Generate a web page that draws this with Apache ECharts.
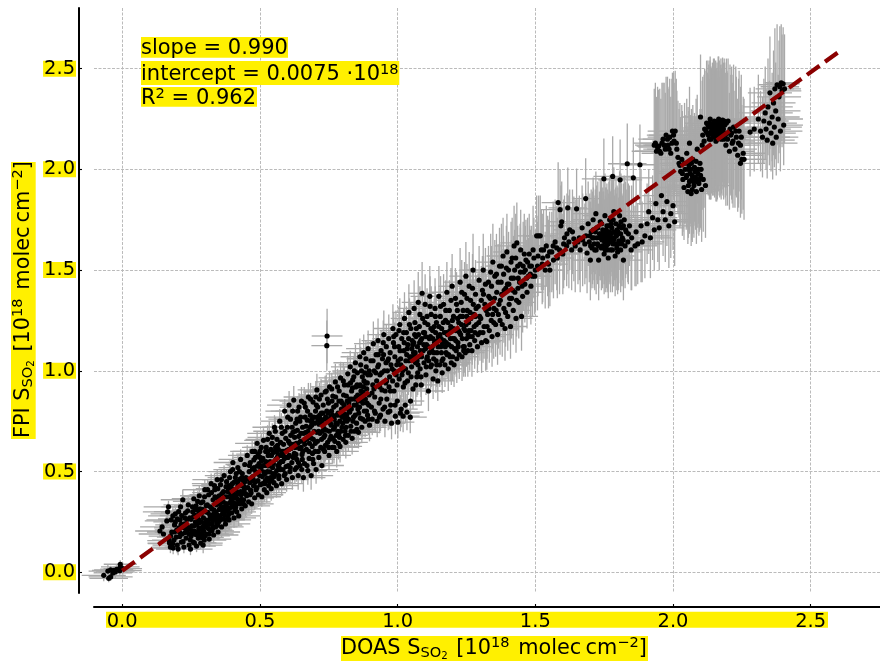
<!DOCTYPE html>
<html><head><meta charset="utf-8">
<style>html,body{margin:0;padding:0;background:#fff}#c{width:880px;height:665px}</style>
<script src="https://cdn.jsdelivr.net/npm/echarts@6/dist/echarts.min.js"></script>
</head><body><div id="c"></div>
<script>
// rows: DOAS S, FPI S, DOAS error, FPI error (10^18 molec cm-2)
const nearZero=[[-.067,-.015,.08,.03],[-.049,-.03,.07,.02],[-.042,-.023,.08,.02],[-.052,.006,.07,.03],[-.034,-.003,.07,.03],[-.03,.01,.08,.02],[-.02,.015,.06,.02],[-.007,.04,.06,.02],[-.007,.027,.07,.02],[-.009,.008,.08,.02],[-.025,.002,.07,.03],[-.042,.012,.06,.02],[.002,.018,.07,.03]];
const rangeA=[[.137,.205,.09,.03],[.145,.225,.08,.03],[.15,.19,.09,.04],[.162,.255,.08,.03],[.165,.3,.09,.04],[.168,.325,.09,.03],[.172,.145,.08,.03],[.175,.125,.07,.03],[.178,.26,.09,.04],[.18,.2,.09,.03],[.185,.12,.08,.03],[.188,.16,.08,.04],[.19,.235,.07,.04],[.193,.29,.09,.03],[.196,.175,.07,.03],[.2,.135,.09,.04],[.203,.115,.08,.03],[.206,.22,.09,.04],[.21,.26,.08,.05],[.212,.325,.07,.04],[.215,.15,.08,.03],[.218,.19,.09,.03],[.22,.36,.08,.05],[.224,.125,.07,.03],[.226,.24,.08,.04],[.23,.295,.09,.04],[.232,.17,.08,.03],[.236,.21,.07,.05],[.24,.335,.09,.05],[.243,.135,.08,.03],[.245,.27,.07,.04],[.248,.115,.08,.03],[.25,.18,.09,.04],[.253,.23,.07,.05],[.256,.3,.08,.04],[.258,.15,.07,.03],[.26,.365,.08,.05],[.263,.205,.09,.04],[.266,.25,.07,.05],[.268,.33,.08,.05],[.27,.13,.07,.03],[.273,.28,.09,.05],[.276,.17,.08,.04],[.278,.22,.08,.04],[.28,.38,.07,.05],[.283,.315,.08,.05],[.285,.145,.08,.03],[.288,.25,.09,.05],[.29,.195,.07,.04],[.293,.35,.08,.05],[.295,.27,.07,.04],[.298,.16,.08,.04],[.3,.41,.08,.05],[.302,.3,.07,.05],[.304,.225,.09,.05],[.307,.19,.08,.04],[.309,.335,.07,.05],[.312,.255,.08,.05],[.314,.385,.07,.06],[.316,.165,.08,.04],[.318,.285,.09,.05],[.32,.21,.08,.05],[.323,.44,.07,.05],[.325,.315,.08,.06],[.327,.24,.07,.05],[.33,.36,.08,.05],[.332,.185,.09,.04],[.334,.27,.07,.05],[.336,.41,.08,.06],[.339,.225,.08,.05],[.341,.3,.07,.05],[.343,.335,.08,.06],[.345,.46,.09,.05],[.348,.2,.08,.04],[.35,.25,.07,.05],[.352,.38,.08,.06],[.354,.28,.08,.05],[.357,.435,.07,.06],[.359,.32,.09,.06],[.361,.225,.08,.05],[.363,.355,.07,.05],[.366,.265,.08,.05],[.368,.4,.08,.06],[.37,.48,.07,.05],[.372,.3,.08,.06],[.375,.24,.09,.05],[.377,.34,.08,.05],[.379,.45,.07,.06],[.381,.375,.08,.06],[.384,.275,.07,.05],[.386,.415,.09,.06],[.388,.26,.08,.05],[.391,.32,.07,.06],[.393,.5,.08,.05],[.395,.355,.08,.06],[.398,.295,.07,.05],[.4,.44,.08,.06],[.402,.545,.07,.05],[.404,.39,.09,.06],[.406,.27,.08,.05],[.409,.335,.07,.06],[.411,.47,.08,.06],[.413,.41,.08,.05],[.416,.3,.07,.05],[.418,.365,.09,.06],[.42,.52,.07,.06],[.423,.28,.08,.05],[.425,.43,.08,.06],[.427,.34,.07,.06],[.43,.56,.08,.05],[.432,.385,.09,.06],[.434,.315,.07,.05],[.436,.49,.08,.07],[.439,.45,.07,.06],[.441,.36,.08,.05],[.443,.41,.08,.06],[.445,.535,.07,.06],[.447,.33,.09,.05],[.449,.47,.08,.06]];
const coreA=[[.171,.157,.08,.04],[.183,.142,.09,.03],[.198,.21,.08,.04],[.209,.178,.07,.04],[.221,.152,.09,.03],[.214,.238,.08,.05],[.235,.262,.07,.05],[.229,.198,.09,.04],[.247,.161,.08,.04],[.241,.222,.07,.05],[.259,.277,.08,.05],[.252,.207,.09,.04],[.268,.188,.07,.04],[.262,.146,.08,.03],[.277,.263,.09,.05],[.271,.238,.07,.05],[.289,.173,.08,.04],[.284,.215,.09,.05],[.297,.231,.07,.05],[.291,.312,.08,.05],[.306,.259,.07,.05],[.301,.181,.09,.04],[.317,.238,.08,.05],[.311,.297,.07,.05],[.326,.206,.08,.05],[.322,.269,.09,.05],[.338,.342,.07,.06],[.331,.288,.08,.05],[.346,.234,.09,.05],[.342,.371,.07,.06],[.353,.312,.08,.06],[.349,.268,.07,.05],[.364,.29,.09,.06],[.358,.348,.08,.06],[.374,.262,.07,.05],[.369,.325,.08,.06],[.383,.401,.09,.06],[.378,.305,.07,.06],[.392,.345,.08,.06],[.387,.289,.08,.05],[.403,.367,.07,.06],[.397,.418,.09,.06],[.412,.323,.08,.06],[.407,.448,.07,.06],[.421,.396,.08,.06],[.417,.341,.09,.06],[.433,.362,.07,.06],[.428,.462,.08,.06],[.442,.426,.08,.06],[.438,.393,.07,.06],[.255,.325,.09,.05],[.238,.305,.08,.05],[.227,.27,.07,.05],[.216,.282,.08,.04],[.205,.301,.09,.04],[.286,.345,.07,.05],[.279,.295,.08,.05],[.274,.352,.09,.05],[.265,.31,.07,.05],[.299,.375,.08,.05],[.31,.41,.09,.05],[.324,.395,.07,.06],[.335,.43,.08,.06],[.347,.415,.08,.06],[.36,.46,.07,.05],[.377,.425,.09,.06],[.39,.47,.08,.06],[.401,.51,.07,.06],[.414,.49,.08,.06],[.426,.5,.09,.06],[.294,.135,.07,.04],[.282,.19,.08,.04],[.315,.19,.09,.04],[.329,.22,.07,.05],[.343,.25,.08,.05],[.356,.26,.09,.05],[.371,.285,.07,.05],[.385,.31,.08,.05],[.399,.325,.08,.06],[.41,.31,.07,.05],[.424,.35,.09,.06],[.44,.34,.08,.05],[.19,.2,.07,.04],[.176,.18,.08,.04],[.184,.28,.09,.04],[.2,.265,.07,.05],[.243,.19,.08,.04],[.26,.23,.09,.05],[.275,.2,.07,.04],[.292,.225,.08,.05],[.303,.245,.08,.05],[.319,.265,.07,.05],[.333,.31,.09,.06],[.344,.285,.08,.05],[.355,.34,.07,.06],[.367,.35,.08,.06],[.38,.34,.09,.06],[.394,.39,.07,.06],[.408,.38,.08,.06],[.42,.43,.08,.06],[.431,.43,.07,.06],[.445,.45,.09,.06]];
const fillA=[[.193,.25,.08,.04],[.208,.2,.09,.04],[.223,.222,.07,.04],[.234,.233,.08,.05],[.25,.263,.09,.05],[.258,.19,.07,.04],[.264,.283,.08,.05],[.272,.31,.09,.05],[.281,.247,.07,.05],[.287,.29,.08,.05],[.296,.205,.09,.05],[.305,.33,.07,.05],[.313,.217,.08,.05],[.32,.325,.09,.06],[.328,.258,.07,.05],[.337,.375,.08,.06],[.34,.264,.09,.05],[.351,.36,.07,.06],[.362,.39,.08,.06],[.365,.31,.09,.06],[.373,.375,.07,.06],[.382,.32,.08,.06],[.389,.43,.09,.06],[.396,.37,.07,.06],[.405,.345,.08,.06],[.415,.385,.09,.06],[.419,.45,.07,.06],[.43,.4,.08,.06],[.435,.47,.09,.06],[.448,.39,.07,.06]];
const rangeB=[[.452,.38,.08,.06],[.454,.58,.07,.05],[.456,.42,.08,.07],[.459,.35,.08,.05],[.461,.5,.07,.06],[.463,.445,.09,.06],[.465,.545,.08,.07],[.468,.395,.07,.06],[.47,.34,.08,.05],[.472,.6,.08,.06],[.474,.475,.07,.07],[.477,.43,.09,.06],[.479,.52,.08,.06],[.481,.37,.07,.06],[.484,.57,.08,.07],[.486,.41,.07,.06],[.488,.49,.08,.07],[.49,.64,.08,.06],[.493,.455,.07,.06],[.495,.385,.09,.06],[.497,.54,.08,.07],[.5,.6,.07,.06],[.502,.435,.08,.06],[.504,.51,.08,.07],[.507,.375,.07,.05],[.509,.475,.08,.07],[.511,.565,.09,.07],[.513,.655,.07,.06],[.516,.41,.08,.06],[.518,.53,.07,.07],[.52,.455,.08,.06],[.523,.62,.08,.07],[.525,.395,.07,.05],[.527,.5,.09,.07],[.53,.58,.08,.07],[.532,.43,.07,.06],[.534,.69,.08,.06],[.537,.55,.08,.07],[.539,.47,.07,.07],[.541,.415,.08,.06],[.544,.64,.07,.07],[.546,.52,.09,.07],[.548,.595,.08,.07],[.551,.445,.07,.06],[.553,.72,.08,.06],[.555,.49,.08,.07],[.558,.56,.07,.07],[.56,.43,.08,.06],[.562,.66,.08,.07],[.565,.53,.07,.07],[.567,.61,.09,.07],[.569,.465,.08,.07],[.572,.75,.07,.06],[.574,.51,.08,.07],[.576,.58,.07,.07],[.579,.44,.08,.06],[.581,.69,.08,.07],[.583,.55,.07,.08],[.586,.635,.09,.07],[.588,.48,.08,.07],[.59,.8,.07,.06],[.593,.6,.08,.07],[.595,.525,.07,.07],[.597,.46,.08,.06],[.6,.72,.08,.08],[.602,.57,.07,.07],[.604,.65,.09,.07],[.606,.83,.08,.07],[.609,.5,.07,.07],[.611,.76,.08,.07],[.613,.615,.07,.08],[.616,.545,.08,.07],[.618,.47,.08,.06],[.62,.695,.07,.08],[.623,.855,.08,.07],[.625,.59,.09,.07],[.627,.51,.08,.07],[.63,.74,.07,.08],[.632,.64,.08,.08],[.634,.56,.07,.07],[.637,.8,.08,.07],[.639,.48,.08,.07],[.641,.675,.07,.08],[.644,.615,.09,.08],[.646,.53,.08,.07],[.648,.77,.07,.08],[.651,.85,.08,.07],[.653,.585,.08,.08],[.655,.72,.07,.08],[.658,.47,.08,.07],[.66,.65,.09,.08],[.662,.54,.07,.07],[.665,.82,.08,.08],[.667,.695,.08,.08],[.669,.61,.07,.08],[.672,.755,.08,.08],[.674,.505,.07,.07],[.676,.87,.09,.07],[.679,.565,.08,.08],[.681,.67,.07,.08],[.683,.78,.08,.08],[.686,.48,.08,.07],[.688,.73,.07,.09],[.69,.625,.08,.08],[.693,.845,.09,.08],[.695,.54,.07,.07],[.697,.7,.08,.08],[.7,.6,.08,.08],[.702,.8,.07,.09],[.704,.51,.08,.07],[.707,.905,.07,.08],[.709,.65,.08,.09],[.711,.755,.09,.09],[.714,.57,.08,.08],[.716,.86,.07,.08],[.718,.69,.08,.09],[.721,.62,.07,.08],[.723,.79,.08,.08],[.725,.53,.08,.07],[.728,.735,.07,.09],[.73,.83,.09,.08],[.732,.67,.08,.09],[.735,.6,.07,.08],[.737,.895,.08,.08],[.739,.77,.08,.09],[.742,.705,.07,.09],[.744,1.173,.056,.135],[.743,1.125,.056,.125],[.746,.645,.08,.08],[.749,.84,.09,.09],[.751,.58,.08,.07],[.753,.92,.07,.08],[.756,.74,.08,.09],[.758,.675,.07,.09],[.76,.8,.08,.09],[.763,.62,.08,.08],[.765,.875,.09,.09],[.767,.71,.07,.09],[.77,.76,.08,.09],[.772,.65,.08,.08],[.774,.945,.07,.09],[.777,.83,.08,.09],[.779,.6,.08,.08],[.781,.735,.07,.09],[.784,.79,.09,.09],[.786,.685,.08,.09],[.788,.9,.07,.09],[.791,.625,.08,.08],[.793,.965,.08,.08],[.795,.85,.07,.09],[.798,.72,.08,.09],[.8,.77,.09,.09],[.802,.66,.07,.08],[.805,.815,.08,.09],[.807,.93,.08,.09],[.809,.7,.07,.09],[.812,.645,.08,.08],[.814,.875,.07,.09],[.816,.75,.09,.09],[.819,.985,.08,.09],[.821,.68,.07,.08],[.823,.84,.08,.09],[.826,.795,.08,.09],[.828,1.02,.07,.08],[.83,.725,.08,.09],[.833,.9,.08,.1],[.835,.665,.07,.08],[.837,.955,.09,.09],[.84,.77,.08,.09],[.842,.83,.07,.09],[.844,.7,.08,.08],[.847,1.04,.08,.09],[.849,.87,.07,.1],[.851,.74,.08,.09],[.854,.99,.09,.1],[.856,.81,.07,.09],[.858,.695,.08,.08],[.861,.925,.08,.1],[.863,1.07,.07,.09],[.865,.765,.08,.09],[.868,.85,.07,.09],[.87,.72,.09,.08],[.872,.97,.08,.1],[.875,.895,.07,.1],[.877,1.09,.08,.09],[.879,.8,.08,.09],[.882,.75,.07,.08],[.884,.94,.08,.1],[.886,1.02,.09,.1],[.889,.84,.07,.09],[.891,.78,.08,.09],[.893,1.11,.08,.09],[.896,.88,.07,.1],[.898,.73,.08,.08]];
const coreB=[[.458,.463,.08,.07],[.473,.512,.07,.06],[.466,.408,.08,.06],[.483,.447,.08,.07],[.491,.527,.07,.07],[.478,.558,.09,.06],[.499,.48,.08,.07],[.506,.553,.07,.07],[.494,.587,.08,.07],[.515,.497,.08,.07],[.521,.6,.07,.07],[.51,.44,.09,.06],[.531,.528,.08,.07],[.526,.468,.07,.07],[.54,.61,.08,.07],[.536,.498,.08,.07],[.549,.54,.07,.07],[.545,.67,.09,.07],[.557,.62,.08,.07],[.552,.475,.07,.07],[.566,.585,.08,.07],[.561,.505,.08,.07],[.575,.645,.07,.07],[.571,.54,.09,.07],[.584,.51,.08,.07],[.58,.6,.07,.07],[.594,.665,.08,.08],[.589,.565,.08,.07],[.603,.53,.07,.07],[.598,.605,.09,.07],[.612,.68,.08,.08],[.607,.58,.07,.07],[.622,.635,.08,.08],[.617,.72,.08,.08],[.631,.585,.07,.08],[.626,.67,.09,.08],[.64,.545,.08,.07],[.636,.705,.07,.08],[.65,.62,.08,.08],[.645,.75,.08,.08],[.659,.69,.07,.08],[.654,.56,.09,.07],[.668,.725,.08,.08],[.663,.635,.07,.08],[.678,.6,.08,.08],[.673,.8,.08,.08],[.687,.665,.07,.08],[.682,.72,.09,.08],[.696,.77,.08,.08],[.691,.59,.07,.08],[.706,.695,.08,.09],[.701,.64,.08,.08],[.715,.735,.07,.09],[.71,.82,.09,.08],[.724,.66,.08,.09],[.719,.76,.07,.09],[.733,.715,.08,.09],[.729,.79,.08,.09],[.743,.8,.07,.09],[.738,.63,.09,.08],[.752,.7,.08,.09],[.747,.755,.07,.09],[.762,.85,.08,.09],[.757,.77,.08,.09],[.771,.72,.07,.09],[.766,.665,.09,.08],[.78,.78,.08,.09],[.775,.87,.07,.09],[.79,.75,.08,.09],[.785,.64,.08,.08],[.799,.84,.07,.09],[.794,.7,.09,.09],[.808,.785,.08,.09],[.804,.88,.07,.09],[.818,.815,.08,.09],[.813,.72,.08,.09],[.827,.86,.07,.1],[.822,.76,.09,.09],[.836,.915,.08,.1],[.832,.81,.07,.09],[.846,.78,.08,.09],[.841,.97,.08,.1],[.855,.88,.07,.1],[.85,.83,.09,.09],[.864,.93,.08,.1],[.859,.79,.07,.09],[.874,.84,.08,.09],[.869,1.0,.08,.1],[.883,.86,.07,.1],[.878,.95,.09,.1],[.892,.98,.08,.1],[.887,.8,.07,.09],[.481,.6,.08,.06],[.464,.385,.08,.06],[.505,.62,.07,.07],[.517,.44,.09,.06],[.528,.66,.08,.07],[.543,.46,.07,.06],[.556,.7,.08,.07],[.568,.48,.08,.06],[.578,.72,.07,.07],[.592,.49,.09,.06],[.601,.77,.08,.07],[.61,.52,.07,.07],[.619,.8,.08,.07],[.633,.52,.08,.07],[.642,.82,.07,.07],[.652,.51,.09,.07],[.661,.84,.08,.08],[.671,.53,.07,.07],[.684,.86,.08,.08],[.692,.56,.08,.07],[.703,.87,.07,.08],[.712,.6,.09,.08],[.722,.88,.08,.08],[.731,.61,.07,.08],[.741,.9,.08,.08],[.75,.62,.08,.08],[.761,.91,.07,.08],[.769,.62,.09,.08],[.782,.92,.08,.09],[.789,.67,.07,.08],[.803,.95,.08,.09],[.811,.68,.08,.08],[.82,.93,.07,.09],[.831,.7,.09,.08],[.843,1.0,.08,.09],[.852,.71,.07,.08],[.866,1.03,.08,.09],[.873,.76,.08,.09],[.885,1.06,.07,.09],[.894,.76,.09,.08],[.888,.91,.08,.1],[.897,1.0,.07,.1],[.867,.9,.08,.1],[.848,.92,.08,.1],[.829,.94,.07,.09],[.815,.78,.09,.09],[.796,.81,.08,.09],[.778,.68,.07,.09],[.759,.73,.08,.09],[.745,.86,.08,.09],[.727,.7,.07,.09],[.708,.77,.09,.09],[.689,.76,.08,.08],[.67,.66,.07,.08],[.649,.69,.08,.08],[.628,.7,.08,.08],[.608,.64,.07,.07],[.585,.58,.09,.07],[.563,.57,.08,.07],[.542,.58,.07,.07],[.522,.55,.08,.07],[.503,.52,.08,.07],[.485,.5,.07,.07],[.469,.455,.09,.06]];
const fillB=[[.462,.53,.08,.07],[.476,.46,.07,.06],[.489,.42,.08,.06],[.501,.57,.08,.07],[.512,.53,.07,.07],[.519,.49,.09,.07],[.529,.6,.08,.07],[.535,.45,.07,.06],[.547,.49,.08,.07],[.554,.6,.08,.07],[.564,.63,.07,.07],[.57,.52,.09,.07],[.577,.55,.08,.07],[.587,.6,.07,.07],[.591,.7,.08,.07],[.596,.57,.08,.07],[.605,.61,.07,.07],[.615,.63,.09,.08],[.621,.57,.08,.07],[.629,.62,.07,.08],[.635,.76,.08,.08],[.638,.64,.08,.08],[.647,.65,.07,.08],[.656,.6,.09,.08],[.664,.77,.08,.08],[.675,.7,.07,.08],[.68,.64,.08,.08],[.685,.75,.08,.08],[.694,.66,.07,.08],[.699,.74,.09,.08],[.705,.83,.08,.08],[.713,.7,.07,.09],[.717,.78,.08,.09],[.726,.74,.08,.09],[.734,.76,.07,.09],[.736,.68,.09,.09],[.748,.79,.08,.09],[.754,.66,.07,.09],[.764,.78,.08,.09],[.768,.82,.08,.09],[.776,.74,.07,.09],[.783,.7,.09,.09],[.787,.85,.08,.09],[.792,.78,.07,.09],[.801,.74,.08,.09],[.806,.83,.08,.09],[.81,.76,.07,.09],[.817,.85,.09,.09],[.824,.8,.08,.09],[.834,.86,.07,.09],[.838,.75,.08,.09],[.845,.86,.08,.09],[.853,.93,.07,.1],[.857,.85,.09,.09],[.862,.82,.08,.09],[.871,.88,.07,.1],[.876,.92,.08,.1],[.881,.99,.08,.1],[.89,.94,.07,.1],[.895,.83,.09,.09]];
const rangeC=[[.901,.98,.06,.1],[.903,1.05,.05,.1],[.905,.82,.06,.09],[.908,.76,.06,.08],[.91,.93,.05,.1],[.912,1.135,.07,.11],[.915,1.0,.06,.1],[.917,.87,.05,.09],[.919,.79,.06,.09],[.922,1.08,.06,.1],[.924,.95,.05,.1],[.926,.75,.06,.08],[.929,1.15,.06,.11],[.931,1.03,.07,.11],[.933,.84,.05,.09],[.936,.98,.06,.11],[.938,.78,.06,.08],[.94,1.1,.05,.1],[.943,.905,.06,.1],[.945,1.06,.05,.11],[.947,.81,.07,.09],[.95,1.18,.06,.12],[.952,1.0,.05,.11],[.954,.75,.06,.08],[.957,.94,.06,.1],[.959,1.12,.05,.11],[.961,.86,.06,.09],[.964,1.05,.05,.11],[.966,.795,.07,.09],[.968,1.16,.06,.12],[.971,.97,.05,.11],[.973,1.09,.06,.11],[.975,.83,.06,.09],[.978,.74,.05,.08],[.98,1.01,.06,.11],[.983,1.21,.07,.12],[.985,1.14,.05,.12],[.987,.9,.06,.1],[.99,1.07,.06,.11],[.992,.775,.05,.09],[.994,1.18,.06,.12],[.997,1.03,.05,.11],[.999,.85,.07,.09],[1.001,.745,.06,.08],[1.004,1.12,.05,.12],[1.006,.96,.06,.11],[1.008,1.23,.06,.13],[1.011,1.06,.05,.12],[1.013,.81,.06,.09],[1.015,1.16,.07,.12],[1.018,1.0,.05,.11],[1.02,.775,.06,.08],[1.023,1.1,.06,.12],[1.025,1.26,.05,.13],[1.027,.94,.06,.1],[1.03,1.05,.05,.11],[1.032,1.19,.07,.13],[1.034,.795,.06,.09],[1.037,1.13,.05,.12],[1.039,.99,.06,.11],[1.041,1.29,.06,.14],[1.044,1.07,.05,.12],[1.046,.77,.06,.08],[1.048,1.21,.07,.13],[1.051,1.02,.05,.11],[1.053,1.15,.06,.12],[1.056,.91,.06,.1],[1.058,1.09,.05,.12],[1.06,1.31,.06,.14],[1.063,1.24,.05,.13],[1.065,1.04,.07,.11],[1.067,1.17,.06,.12],[1.07,.97,.05,.1],[1.072,1.12,.06,.12],[1.075,1.34,.06,.15],[1.077,1.07,.05,.12],[1.079,1.22,.06,.13],[1.082,1.01,.07,.11],[1.084,1.15,.05,.12],[1.086,.93,.06,.1],[1.089,1.385,.05,.155],[1.091,1.26,.06,.14],[1.093,1.1,.06,.12],[1.096,1.04,.05,.11],[1.098,1.19,.07,.13],[1.1,1.33,.06,.15],[1.103,.98,.05,.1],[1.105,1.13,.06,.12],[1.108,1.07,.06,.12],[1.11,1.23,.05,.13],[1.112,.9,.06,.1],[1.115,1.16,.05,.12],[1.117,1.37,.07,.15],[1.12,1.02,.06,.11],[1.122,1.28,.05,.14],[1.124,1.1,.06,.12],[1.127,1.2,.06,.13],[1.129,.96,.05,.1],[1.131,1.06,.06,.12],[1.134,1.14,.07,.12],[1.136,1.31,.05,.15],[1.139,1.0,.06,.11],[1.141,1.24,.06,.14],[1.143,1.09,.05,.12],[1.146,.95,.06,.1],[1.148,1.17,.05,.13],[1.15,1.37,.07,.15],[1.153,1.03,.06,.11],[1.155,1.27,.05,.14],[1.157,1.12,.06,.12],[1.16,1.21,.06,.14],[1.162,.99,.05,.1],[1.165,1.06,.06,.11],[1.167,1.33,.07,.15],[1.169,1.15,.05,.13],[1.172,1.03,.06,.11],[1.174,1.25,.05,.14],[1.176,1.09,.06,.12],[1.179,1.39,.06,.15],[1.181,1.18,.07,.13],[1.184,1.01,.05,.11],[1.186,1.13,.06,.13],[1.188,1.3,.06,.15],[1.191,1.07,.05,.12],[1.193,1.22,.06,.14],[1.195,1.04,.07,.11],[1.198,1.42,.05,.16],[1.2,1.16,.06,.13],[1.203,1.27,.06,.15],[1.205,1.03,.05,.11],[1.207,1.11,.06,.13],[1.21,1.36,.05,.15],[1.212,1.2,.07,.14],[1.215,1.06,.06,.12],[1.217,1.3,.05,.15],[1.219,1.14,.06,.13],[1.222,1.24,.06,.15],[1.224,1.08,.05,.12],[1.227,1.44,.06,.17],[1.229,1.18,.07,.14],[1.231,1.34,.05,.16],[1.234,1.07,.06,.12],[1.236,1.27,.06,.15],[1.239,1.12,.05,.13],[1.241,1.21,.06,.14],[1.243,1.38,.05,.16],[1.246,1.09,.07,.12],[1.248,1.47,.06,.17],[1.25,1.16,.05,.14],[1.253,1.3,.06,.16],[1.255,1.1,.06,.13],[1.258,1.24,.05,.15],[1.26,1.42,.06,.17],[1.262,1.13,.07,.13],[1.265,1.35,.05,.16],[1.267,1.2,.06,.15],[1.27,1.1,.06,.13],[1.274,1.5,.05,.18],[1.277,1.28,.06,.16],[1.28,1.15,.05,.14],[1.283,1.38,.07,.17],[1.286,1.23,.06,.15],[1.29,1.12,.05,.13],[1.293,1.32,.06,.16],[1.296,1.45,.06,.17],[1.299,1.19,.05,.14]];
const coreC=[[.907,.89,.06,.1],[.921,.99,.05,.1],[.914,.91,.06,.1],[.928,1.02,.06,.11],[.935,.92,.05,.1],[.942,.99,.07,.1],[.949,1.08,.06,.11],[.955,.9,.05,.1],[.963,1.0,.06,.11],[.958,1.04,.06,.11],[.969,.92,.05,.1],[.976,1.03,.07,.11],[.982,.95,.06,.1],[.989,1.12,.05,.12],[.995,.98,.06,.11],[1.002,1.05,.06,.11],[1.009,1.1,.05,.12],[1.016,.98,.07,.11],[1.022,1.19,.06,.12],[1.029,1.01,.05,.11],[1.035,1.11,.06,.12],[1.042,1.05,.06,.12],[1.049,.97,.05,.1],[1.055,1.13,.07,.12],[1.061,1.07,.06,.12],[1.068,1.21,.05,.13],[1.074,1.03,.06,.11],[1.08,1.14,.06,.13],[1.087,1.07,.05,.12],[1.094,1.19,.07,.13],[1.101,1.11,.06,.13],[1.107,1.27,.05,.14],[1.113,1.05,.06,.12],[1.119,1.17,.06,.13],[1.126,1.12,.05,.13],[1.133,1.22,.07,.14],[1.14,1.05,.06,.12],[1.147,1.12,.05,.13],[1.154,1.18,.06,.14],[1.159,1.09,.06,.13],[1.166,1.24,.05,.15],[1.173,1.12,.07,.13],[1.178,1.19,.06,.14],[1.185,1.08,.05,.13],[1.192,1.16,.06,.14],[1.199,1.25,.06,.15],[1.206,1.16,.05,.14],[1.213,1.1,.07,.13],[1.221,1.2,.06,.15],[1.228,1.27,.05,.16],[1.235,1.16,.06,.14],[1.242,1.12,.06,.13],[1.249,1.23,.05,.15],[1.256,1.18,.07,.15],[1.263,1.29,.06,.16],[1.271,1.17,.05,.14],[1.278,1.22,.06,.15],[1.285,1.31,.06,.16],[1.292,1.18,.05,.15],[1.298,1.27,.07,.16],[.911,1.05,.06,.1],[.93,1.08,.05,.11],[.948,1.14,.06,.11],[.967,1.06,.06,.11],[.986,1.17,.05,.12],[1.005,1.2,.07,.12],[1.024,1.14,.06,.12],[1.043,1.23,.05,.13],[1.062,1.18,.06,.13],[1.081,1.28,.06,.14],[1.099,1.24,.05,.14],[1.118,1.32,.07,.15],[1.137,1.27,.06,.15],[1.156,1.32,.05,.15],[1.175,1.3,.06,.15],[1.194,1.35,.06,.16],[1.214,1.33,.05,.16],[1.233,1.39,.07,.16],[1.252,1.36,.06,.17],[1.272,1.41,.05,.17],[.916,.8,.06,.09],[.934,.77,.05,.08],[.953,.82,.06,.09],[.972,.8,.06,.09],[.991,.83,.05,.09],[1.01,.79,.07,.09],[1.028,.83,.06,.09],[1.047,.85,.05,.09],[1.066,.93,.06,.1],[1.085,.97,.06,.1],[1.104,1.02,.05,.11],[1.123,1.03,.07,.11],[1.142,1.03,.06,.11],[1.161,1.05,.05,.12],[1.18,1.08,.06,.12],[1.2,1.07,.06,.12],[1.22,1.12,.05,.13],[1.24,1.1,.07,.13],[1.26,1.17,.06,.14],[1.281,1.19,.05,.14]];
const fillC=[[1.033,1.08,.06,.12],[1.04,1.16,.05,.12],[1.052,1.11,.06,.12],[1.059,1.14,.07,.12],[1.064,1.09,.05,.12],[1.071,1.05,.06,.12],[1.076,1.18,.06,.13],[1.083,1.1,.05,.12],[1.088,1.16,.07,.13],[1.095,1.13,.06,.13],[1.102,1.17,.05,.13],[1.106,1.06,.06,.12],[1.111,1.12,.06,.13],[1.116,1.09,.05,.13],[1.121,1.21,.07,.14],[1.128,1.16,.06,.13],[1.132,1.09,.05,.13],[1.138,1.19,.06,.14],[1.144,1.15,.06,.14],[1.15,1.22,.05,.14],[1.158,1.16,.07,.14],[1.163,1.14,.06,.14],[1.17,1.19,.05,.14],[1.177,1.14,.06,.14],[1.183,1.24,.06,.15],[1.19,1.2,.05,.15],[1.196,1.12,.07,.14],[1.204,1.21,.06,.15],[1.211,1.15,.05,.14],[1.218,1.26,.06,.15],[1.225,1.19,.06,.15],[1.232,1.23,.05,.15],[1.238,1.3,.07,.16],[1.245,1.2,.06,.15],[1.251,1.27,.05,.16],[1.259,1.2,.06,.15],[1.266,1.26,.06,.16],[1.275,1.33,.05,.17],[1.282,1.27,.07,.16],[1.295,1.24,.06,.16],[.939,.86,.06,.1],[.96,.95,.05,.1],[.974,.9,.06,.1],[.988,1.0,.06,.11],[.998,.93,.05,.11],[1.012,1.03,.07,.11],[1.021,.92,.06,.1],[1.036,.95,.05,.11],[1.05,1.07,.06,.12],[1.073,.99,.06,.11]];
const rangeD=[[1.302,1.26,.06,.16],[1.305,1.14,.05,.15],[1.308,1.4,.07,.17],[1.311,1.5,.06,.18],[1.314,1.22,.05,.16],[1.317,1.33,.06,.17],[1.32,1.15,.06,.15],[1.324,1.145,.05,.14],[1.327,1.28,.06,.17],[1.33,1.44,.07,.18],[1.333,1.2,.05,.16],[1.336,1.36,.06,.17],[1.34,1.25,.06,.16],[1.343,1.17,.05,.15],[1.346,1.54,.06,.19],[1.35,1.31,.05,.17],[1.353,1.47,.07,.18],[1.356,1.23,.06,.16],[1.36,1.39,.05,.18],[1.363,1.18,.06,.15],[1.366,1.28,.06,.17],[1.37,1.52,.05,.19],[1.373,1.35,.06,.18],[1.376,1.44,.07,.19],[1.38,1.23,.05,.16],[1.383,1.57,.06,.19],[1.386,1.31,.06,.17],[1.39,1.21,.05,.16],[1.393,1.41,.06,.19],[1.397,1.59,.05,.19],[1.4,1.27,.07,.17],[1.403,1.5,.06,.19],[1.407,1.36,.05,.18],[1.41,1.22,.06,.16],[1.413,1.46,.06,.19],[1.416,1.56,.05,.2],[1.42,1.3,.06,.17],[1.423,1.62,.07,.2],[1.426,1.39,.05,.19],[1.43,1.26,.06,.17],[1.433,1.635,.06,.2],[1.436,1.52,.05,.2],[1.44,1.34,.06,.18],[1.443,1.44,.05,.19],[1.447,1.6,.07,.2],[1.45,1.27,.06,.17],[1.454,1.37,.05,.18],[1.458,1.49,.06,.19],[1.462,1.43,.06,.19],[1.466,1.55,.05,.2],[1.47,1.39,.06,.18],[1.475,1.47,.07,.19],[1.48,1.52,.05,.2],[1.484,1.42,.06,.19],[1.49,1.47,.06,.2],[1.495,1.56,.05,.2],[1.5,1.5,.06,.2],[1.505,1.67,.07,.2],[1.512,1.67,.05,.2],[1.518,1.67,.06,.2],[1.525,1.53,.06,.2],[1.53,1.6,.05,.2],[1.536,1.5,.06,.19],[1.545,1.57,.07,.2],[1.553,1.5,.05,.18],[1.56,1.59,.06,.2],[1.566,1.55,.06,.19],[1.572,1.64,.05,.21],[1.578,1.61,.06,.21],[1.583,1.835,.06,.2],[1.59,1.8,.07,.2],[1.596,1.74,.05,.2],[1.593,1.72,.06,.2],[1.6,1.58,.06,.2],[1.606,1.66,.05,.21],[1.614,1.62,.06,.2],[1.618,1.809,.07,.2],[1.625,1.7,.06,.2],[1.632,1.6,.05,.2],[1.64,1.655,.06,.21],[1.65,1.804,.06,.2],[1.655,1.64,.05,.21],[1.663,1.6,.07,.21],[1.67,1.71,.06,.21],[1.683,1.855,.05,.2]];
const coreD=[[1.304,1.35,.06,.17],[1.31,1.19,.05,.15],[1.319,1.43,.06,.18],[1.325,1.22,.06,.16],[1.332,1.31,.05,.17],[1.338,1.49,.07,.19],[1.345,1.28,.06,.17],[1.352,1.36,.05,.18],[1.358,1.3,.06,.17],[1.365,1.44,.06,.19],[1.372,1.25,.05,.17],[1.378,1.38,.07,.18],[1.385,1.48,.06,.19],[1.392,1.29,.05,.17],[1.399,1.43,.06,.19],[1.405,1.33,.06,.18],[1.412,1.54,.05,.2],[1.418,1.4,.07,.19],[1.425,1.5,.06,.2],[1.432,1.35,.05,.18],[1.438,1.46,.06,.19],[1.445,1.53,.06,.2],[1.452,1.42,.05,.19],[1.46,1.58,.07,.2],[1.468,1.46,.06,.19],[1.478,1.58,.05,.2],[1.486,1.52,.06,.2],[1.498,1.47,.06,.19],[1.51,1.57,.05,.2],[1.522,1.6,.07,.2],[1.54,1.62,.06,.2],[1.552,1.59,.05,.2],[1.58,1.56,.06,.2],[1.615,1.68,.06,.2],[1.635,1.69,.05,.21],[1.66,1.66,.07,.21]];
const fillD=[[1.312,1.38,.06,.19],[1.322,1.3,.05,.18],[1.331,1.37,.06,.19],[1.341,1.42,.06,.2],[1.349,1.24,.05,.18],[1.359,1.48,.07,.2],[1.368,1.33,.06,.19],[1.377,1.52,.05,.21],[1.387,1.4,.06,.2],[1.395,1.51,.06,.21],[1.404,1.43,.05,.2],[1.414,1.36,.07,.2],[1.421,1.46,.06,.21],[1.429,1.56,.05,.22],[1.437,1.41,.06,.21],[1.446,1.49,.06,.22],[1.456,1.52,.05,.22],[1.464,1.5,.07,.22],[1.472,1.54,.06,.22],[1.482,1.48,.05,.22],[1.492,1.6,.06,.22],[1.508,1.52,.06,.22],[1.527,1.56,.05,.22],[1.548,1.53,.07,.22],[1.565,1.62,.06,.22],[1.588,1.6,.05,.22],[1.603,1.63,.06,.22],[1.622,1.64,.06,.23],[1.645,1.62,.05,.23],[1.672,1.65,.07,.23]];
const rangeE=[[1.68,1.63,.09,.2],[1.684,1.67,.08,.21],[1.688,1.585,.07,.2],[1.692,1.73,.09,.21],[1.696,1.64,.08,.2],[1.7,1.55,.07,.2],[1.703,1.69,.08,.21],[1.706,1.61,.09,.2],[1.71,1.75,.08,.21],[1.713,1.66,.07,.21],[1.716,1.6,.08,.2],[1.72,1.78,.09,.21],[1.723,1.71,.08,.21],[1.726,1.63,.07,.2],[1.73,1.55,.08,.2],[1.733,1.68,.09,.21],[1.736,1.74,.08,.21],[1.74,1.61,.07,.21],[1.742,1.65,.08,.21],[1.745,1.7,.09,.21],[1.749,1.953,.08,.2],[1.75,1.58,.07,.2],[1.753,1.77,.08,.21],[1.755,1.66,.09,.21],[1.758,1.62,.08,.21],[1.76,1.72,.07,.21],[1.763,1.69,.08,.21],[1.765,1.56,.09,.2],[1.768,1.64,.08,.21],[1.77,1.75,.07,.22],[1.773,1.6,.08,.21],[1.775,1.68,.09,.21],[1.778,1.71,.08,.22],[1.781,1.965,.07,.2],[1.782,1.63,.08,.21],[1.785,1.79,.09,.22],[1.787,1.66,.08,.21],[1.79,1.57,.07,.2],[1.793,1.73,.08,.22],[1.796,1.61,.09,.21],[1.8,1.69,.08,.22],[1.803,1.645,.07,.21],[1.806,1.77,.08,.22],[1.808,1.948,.08,.2],[1.81,1.6,.07,.21],[1.813,1.71,.09,.22],[1.816,1.66,.08,.21],[1.82,1.55,.07,.2],[1.823,1.75,.08,.22],[1.826,1.62,.09,.21],[1.83,1.69,.08,.21],[1.834,2.028,.07,.2],[1.836,1.64,.08,.2],[1.842,1.72,.09,.2],[1.848,1.6,.08,.2],[1.856,1.958,.07,.2],[1.862,1.62,.08,.2],[1.872,1.63,.09,.2],[1.88,2.023,.07,.2],[1.888,1.64,.08,.2],[1.898,1.67,.09,.21],[1.906,1.73,.08,.2],[1.912,1.79,.07,.21],[1.918,1.66,.08,.2],[1.926,1.76,.09,.21],[1.932,1.7,.08,.2],[1.938,1.83,.07,.21],[1.945,1.75,.08,.21],[1.95,1.71,.09,.21],[1.958,1.87,.07,.22],[1.964,1.79,.08,.22],[1.972,1.75,.09,.21],[1.978,1.84,.07,.22],[1.985,1.72,.08,.21],[1.992,1.78,.09,.22],[2.0,1.82,.08,.22],[2.006,1.74,.07,.22]];
const coreE=[[1.735,1.66,.08,.21],[1.748,1.68,.07,.21],[1.744,1.62,.09,.21],[1.757,1.7,.08,.21],[1.752,1.64,.07,.21],[1.766,1.67,.08,.21],[1.761,1.6,.09,.21],[1.776,1.73,.08,.22],[1.771,1.65,.07,.21],[1.786,1.69,.08,.21],[1.78,1.6,.09,.21],[1.795,1.67,.08,.21],[1.79,1.63,.07,.21],[1.804,1.72,.08,.22],[1.799,1.59,.09,.21],[1.814,1.63,.08,.21],[1.81,1.68,.07,.21],[1.724,1.66,.08,.21],[1.718,1.69,.09,.21],[1.73,1.62,.08,.21],[1.741,1.73,.07,.22],[1.77,1.69,.08,.21],[1.783,1.75,.09,.22],[1.797,1.7,.08,.22],[1.76,1.65,.07,.21],[1.711,1.7,.08,.21],[1.698,1.67,.09,.21],[1.82,1.72,.08,.21],[1.754,1.6,.07,.21],[1.767,1.72,.08,.22]];
const fillE=[[1.701,1.62,.08,.22],[1.708,1.66,.07,.23],[1.714,1.63,.09,.22],[1.721,1.6,.08,.22],[1.727,1.71,.07,.23],[1.738,1.68,.08,.23],[1.746,1.66,.09,.23],[1.756,1.68,.08,.23],[1.764,1.63,.07,.23],[1.774,1.66,.08,.23],[1.784,1.65,.09,.23],[1.792,1.68,.08,.23],[1.802,1.63,.07,.23],[1.811,1.74,.08,.24],[1.819,1.65,.09,.23],[1.828,1.7,.08,.24],[1.838,1.68,.07,.25],[1.85,1.66,.08,.26],[1.866,1.69,.09,.27],[1.884,1.72,.08,.28]];
const rangeF=[[1.932,2.12,.07,.28],[1.94,2.09,.09,.27],[1.948,2.115,.08,.28],[1.956,2.08,.07,.27],[1.964,2.15,.09,.28],[1.972,2.1,.08,.28],[1.975,2.17,.07,.29],[1.982,2.12,.09,.28],[1.988,2.16,.08,.29],[1.992,2.08,.07,.28],[1.998,2.19,.09,.29],[2.004,2.14,.08,.29],[2.008,2.19,.07,.3],[2.014,2.1,.09,.29],[2.018,2.06,.08,.28],[2.022,2.03,.07,.27],[2.028,1.99,.09,.27],[2.032,2.05,.08,.27],[2.036,1.95,.07,.26],[2.04,1.91,.09,.26],[2.044,2.0,.08,.27],[2.048,1.96,.07,.26],[2.05,2.08,.09,.27],[2.054,1.89,.08,.26],[2.058,2.02,.07,.27],[2.06,1.94,.09,.26],[2.064,2.0,.08,.27],[2.066,1.88,.07,.26],[2.07,1.97,.09,.26],[2.072,2.05,.08,.27],[2.076,1.92,.07,.26],[2.078,2.01,.09,.27],[2.082,1.96,.08,.26],[2.085,1.89,.07,.26],[2.088,2.1,.09,.27],[2.09,1.98,.08,.27],[2.094,1.93,.07,.26],[2.098,2.03,.09,.27],[2.1,1.97,.08,.26],[2.104,1.9,.07,.26],[2.108,2.17,.09,.29],[2.11,1.95,.08,.26],[2.115,2.2,.07,.3],[2.118,1.92,.09,.26],[2.122,2.23,.08,.31],[2.125,2.18,.07,.3],[2.13,2.21,.09,.31],[2.132,2.15,.08,.3],[2.135,2.25,.07,.31],[2.14,2.19,.09,.31],[2.143,2.22,.08,.31],[2.146,2.17,.07,.3],[2.15,2.24,.09,.31],[2.153,2.2,.08,.31],[2.156,2.14,.07,.3],[2.16,2.22,.09,.31],[2.163,2.18,.08,.31],[2.166,2.25,.07,.31],[2.17,2.16,.09,.3],[2.173,2.21,.08,.31],[2.176,2.19,.07,.31],[2.18,2.245,.09,.31],[2.184,2.15,.08,.3],[2.188,2.22,.07,.31],[2.192,2.12,.09,.3],[2.196,2.18,.08,.31],[2.2,2.24,.07,.31],[2.205,2.09,.09,.29],[2.21,2.17,.08,.3],[2.215,2.13,.07,.3],[2.22,2.21,.09,.31],[2.225,2.1,.08,.29],[2.23,2.16,.07,.3],[2.235,2.07,.09,.28],[2.24,2.19,.08,.3],[2.245,2.12,.07,.29],[2.25,2.05,.09,.27],[2.255,2.08,.08,.28],[2.1,2.26,.07,.31],[2.245,2.03,.09,.27],[2.06,2.13,.08,.28]];
const coreF=[[2.062,1.98,.08,.26],[2.074,1.94,.07,.26],[2.067,2.03,.09,.27],[2.08,1.99,.08,.27],[2.056,1.92,.07,.26],[2.086,1.94,.09,.26],[2.092,2.0,.08,.27],[2.096,1.95,.07,.26],[2.07,1.9,.09,.26],[2.05,1.97,.08,.26],[2.12,2.19,.07,.3],[2.128,2.17,.09,.3],[2.134,2.23,.08,.31],[2.138,2.15,.07,.3],[2.142,2.2,.09,.31],[2.148,2.21,.08,.31],[2.151,2.16,.07,.3],[2.155,2.23,.09,.31],[2.158,2.19,.08,.31],[2.161,2.15,.07,.3],[2.165,2.2,.09,.31],[2.168,2.23,.08,.31],[2.171,2.18,.07,.31],[2.175,2.15,.09,.3],[2.178,2.21,.08,.31],[2.182,2.18,.07,.31],[2.186,2.24,.09,.31],[2.19,2.17,.08,.31],[2.144,2.17,.07,.3],[2.152,2.18,.09,.31]];
const fillF=[[1.936,2.13,.08,.3],[1.944,2.11,.07,.3],[1.952,2.09,.09,.31],[1.96,2.13,.08,.3],[1.968,2.12,.07,.31],[1.98,2.15,.09,.31],[1.986,2.1,.08,.31],[1.996,2.13,.07,.32],[2.002,2.17,.09,.31],[2.012,2.13,.08,.32],[2.025,2.02,.07,.31],[2.034,1.98,.09,.31],[2.042,2.03,.08,.3],[2.055,2.0,.07,.31],[2.068,1.95,.09,.3],[2.084,2.04,.08,.31],[2.102,2.0,.07,.3],[2.106,2.12,.09,.32],[2.113,2.14,.08,.33],[2.127,2.22,.07,.32],[2.136,2.18,.09,.33],[2.147,2.23,.08,.32],[2.159,2.17,.07,.33],[2.164,2.24,.09,.32],[2.174,2.23,.08,.32],[2.183,2.2,.07,.33],[2.194,2.23,.09,.32],[2.198,2.15,.08,.33],[2.207,2.2,.07,.32],[2.213,2.18,.09,.33],[2.218,2.14,.08,.33],[2.228,2.19,.07,.32],[2.238,2.13,.09,.32],[2.248,2.16,.08,.31],[2.258,2.05,.07,.3]];
const rangeG=[[2.28,2.185,.08,.22],[2.295,2.2,.09,.21],[2.31,2.25,.1,.22],[2.318,2.19,.09,.2],[2.325,2.16,.1,.2],[2.33,2.24,.09,.21],[2.335,2.28,.1,.23],[2.338,2.2,.09,.2],[2.342,2.145,.1,.19],[2.345,2.31,.09,.24],[2.35,2.23,.1,.21],[2.352,2.38,.08,.28],[2.356,2.18,.09,.19],[2.36,2.26,.1,.22],[2.362,2.13,.09,.18],[2.365,2.33,.08,.26],[2.368,2.21,.1,.2],[2.37,2.4,.07,.3],[2.373,2.29,.09,.24],[2.375,2.16,.08,.19],[2.378,2.42,.07,.3],[2.382,2.25,.09,.22],[2.385,2.36,.08,.28],[2.388,2.41,.07,.3],[2.39,2.19,.08,.2],[2.393,2.43,.06,.29],[2.396,2.39,.07,.28],[2.4,2.425,.06,.28],[2.402,2.22,.07,.2],[2.405,2.4,.06,.27]];
const fitX=[0,2.6];
const fitY=[.0075,2.5815];
const tickValues=[0,.5,1,1.5,2,2.5];

const YELLOW='#fff000';
const allRows=[].concat(nearZero,rangeA,coreA,fillA,rangeB,coreB,fillB,rangeC,coreC,fillC,rangeD,coreD,fillD,rangeE,coreE,fillE,rangeF,coreF,fillF,rangeG);
const mainFont='"DejaVu Sans"';
const nameRich={
  t:{fontFamily:mainFont,fontSize:20.83,lineHeight:25,color:'#000'},
  s:{fontFamily:mainFont,fontSize:14.6,lineHeight:15,verticalAlign:'bottom',color:'#000'},
  ss:{fontFamily:mainFont,fontSize:10.2,lineHeight:9,verticalAlign:'bottom',color:'#000'},
  u:{fontFamily:mainFont,fontSize:14.6,lineHeight:15,verticalAlign:'top',color:'#000'}
};
const annRich={
  a:{fontFamily:mainFont,fontSize:21,lineHeight:24,color:'#8b0000'},
  b:{fontFamily:mainFont,fontSize:14.7,lineHeight:12,verticalAlign:'top',color:'#8b0000'}
};
function rect(x,y,w,h,z){return {type:'rect',z:z,silent:true,shape:{x:x,y:y,width:w,height:h},style:{fill:YELLOW}};}
function rich(text,x,y,set,extra){
  return Object.assign({type:'text',z:10,silent:true,x:x,y:y,style:{text:text,rich:set,align:'left',verticalAlign:'middle',fill:'#000'}},extra||{});
}
const X_NAME='{t|DOAS S}{s|SO}{ss|2}{t|\u200A [10}{u|18}{t|\u200A molec\u2009cm}{u|−2}{t|]}';
const Y_NAME='{t|FPI S}{s|SO}{ss|2}{t|\u200A [10}{u|18}{t|\u200A molec\u2009cm}{u|−2}{t|]}';
const option={
  backgroundColor:'#fff',animation:false,
  grid:{left:94,right:0,top:8,bottom:72,containLabel:false},
  xAxis:{type:'value',min:-.1024,max:2.7517,offset:14,
    axisLine:{onZero:false,lineStyle:{color:'#000',width:2}},
    axisTick:{inside:true,length:3,lineStyle:{color:'#000',width:1.1},customValues:tickValues},
    axisLabel:{customValues:tickValues,formatter:v=>v.toFixed(1),color:'#000',fontFamily:mainFont,fontSize:19.44,margin:6.5,lineHeight:16,verticalAlign:'top'},
    splitLine:{show:true,lineStyle:{color:'#bbbbbb',width:1,type:[3,1.5]}}},
  yAxis:{type:'value',min:-.1028,max:2.801,offset:15,
    axisLine:{onZero:false,lineStyle:{color:'#000',width:2}},
    axisTick:{inside:true,length:3,lineStyle:{color:'#000',width:1.1},customValues:tickValues},
    axisLabel:{customValues:tickValues,formatter:v=>v.toFixed(1),color:'#000',fontFamily:mainFont,fontSize:19.44,margin:3,lineHeight:13,backgroundColor:YELLOW,padding:[3,1,0,1]},
    splitLine:{show:true,lineStyle:{color:'#bbbbbb',width:1,type:[3,1.5]}}},
  graphic:[
    rect(106,611.7,722,16,-1),
    rect(341,636,307,25,9),
    rich(X_NAME,341,648.5,nameRich),
    rect(11,162,24.7,277,9),
    rich(Y_NAME,23.5,438,nameRich,{rotation:Math.PI/2}),
    rect(141,37,147,20.7,9),
    rect(141,61,258.3,24,9),
    rect(141,87,116,19.7,9),
    rich('{a|slope = 0.990}',141,48.5,annRich),
    rich('{a|intercept = 0.0075 ·10}{b|18}',141,75,annRich),
    rich('{a|R}{b|2}{a| = 0.962}',141,99,annRich)
  ],
  series:[
    {type:'custom',z:2,silent:true,clip:false,data:allRows,
     renderItem:function(p,api){
       const x=api.value(0),y=api.value(1),ex=api.value(2),ey=api.value(3);
       const a=api.coord([x-ex,y]),b=api.coord([x+ex,y]),c=api.coord([x,y-ey]),d=api.coord([x,y+ey]);
       const st={stroke:'#a9a9a9',lineWidth:1.3,fill:null};
       return {type:'group',children:[
         {type:'line',shape:{x1:a[0],y1:a[1],x2:b[0],y2:b[1]},style:st},
         {type:'line',shape:{x1:c[0],y1:c[1],x2:d[0],y2:d[1]},style:st}]};
     },encode:{x:0,y:1}},
    {type:'scatter',z:3,silent:true,symbol:'circle',symbolSize:5.2,itemStyle:{color:'#000',opacity:1},data:allRows.map(r=>[r[0],r[1]])},
    {type:'line',z:4,silent:true,showSymbol:false,symbol:'none',data:fitX.map((v,i)=>[v,fitY[i]]),lineStyle:{color:'#8b0000',width:4.2,type:[15.5,6.75],cap:'butt'}}
  ]
};
echarts.init(document.getElementById('c'),null,{renderer:'canvas'}).setOption(option);
</script></body></html>
